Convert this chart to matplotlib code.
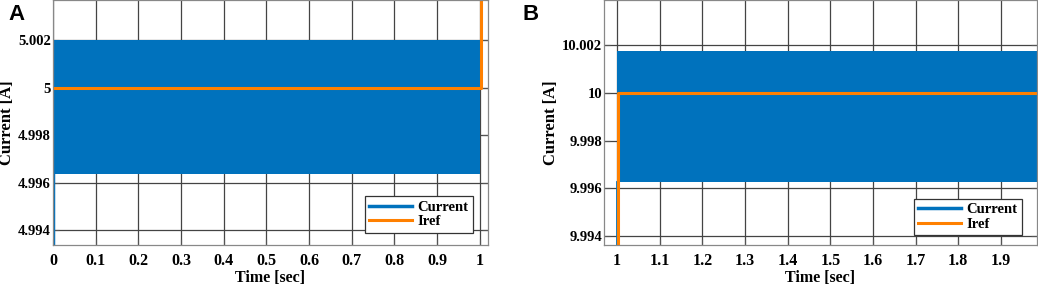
import matplotlib.pyplot as plt
import numpy as np

# panel A data (0 - 1 s, Iref = 5 A)
t_band_a = [0.0, 1.0]
band_hi_a = [5.0020, 5.0020]
band_lo_a = [4.99635, 4.99635]
t_start_a = [0.0, 0.0]
i_start_a = [4.990, 4.99635]
t_ref_a = [0.0, 1.002, 1.002]
i_ref_a = [5.0, 5.0, 10.0]

# panel B data (1 - 2 s, Iref = 10 A)
t_band_b = [1.0, 2.0]
band_hi_b = [10.00175, 10.00175]
band_lo_b = [9.99625, 9.99625]
t_start_b = [1.0, 1.0]
i_start_b = [9.990, 9.99625]
t_ref_b = [1.0015, 1.0015, 2.0]
i_ref_b = [5.0, 10.0, 10.0]

xticks_a = np.round(np.arange(0, 1.01, 0.1), 1)
xlabels_a = ['0'] + ['%.1f' % v for v in xticks_a[1:-1]] + ['1']
yticks_a = [4.994, 4.996, 4.998, 5.0, 5.002]
ylabels_a = ['4.994', '4.996', '4.998', '5', '5.002']

xticks_b = np.round(np.arange(1.0, 1.91, 0.1), 1)
xlabels_b = ['1'] + ['%.1f' % v for v in xticks_b[1:]]
yticks_b = [9.994, 9.996, 9.998, 10.0, 10.002]
ylabels_b = ['9.994', '9.996', '9.998', '10', '10.002']

blue = '#0072BD'
orange = '#FF8000'
serif = 'Liberation Serif'

fig = plt.figure(figsize=(10.38, 2.86), dpi=100)
axA = fig.add_axes([0.0511, 0.1434, 0.4190, 0.8566])
axB = fig.add_axes([0.5819, 0.1434, 0.4171, 0.8566])


def style(ax, xticks, xlabels, yticks, ylabels, xlim, ylim):
    ax.set_xlim(*xlim)
    ax.set_ylim(*ylim)
    ax.set_xticks(xticks)
    ax.set_xticklabels(xlabels)
    ax.set_yticks(yticks)
    ax.set_yticklabels(ylabels)
    ax.set_axisbelow(True)
    ax.grid(True, color='#444444', linewidth=0.9)
    ax.tick_params(direction='in', length=4, color='#555555', top=False, right=True)
    ax.tick_params(axis='x', labelsize=11.5, pad=6)
    ax.tick_params(axis='y', labelsize=10.5, pad=1.5)
    for lab in ax.get_xticklabels() + ax.get_yticklabels():
        lab.set_family(serif)
        lab.set_fontweight('bold')
    for sp in ax.spines.values():
        sp.set_color('#888888')
        sp.set_linewidth(0.9)
    ax.set_xlabel('Time [sec]', family=serif, fontweight='bold', fontsize=11.5, labelpad=0.5)
    ax.set_ylabel('Current [A]', family=serif, fontweight='bold', fontsize=12, labelpad=2)


# A
axA.fill_between(t_band_a, band_lo_a, band_hi_a, color=blue, linewidth=0, zorder=2.1)
axA.plot(t_start_a, i_start_a, color=blue, lw=2.5, zorder=2.2)
axA.plot([], [], color=blue, lw=2.5, label='Current')
axA.plot(t_ref_a, i_ref_a, color=orange, lw=2.2, label='Iref', zorder=2.5)
style(axA, xticks_a, xlabels_a, yticks_a, ylabels_a, (0, 1.019), (4.99337, 5.0037))

# B
axB.fill_between(t_band_b, band_lo_b, band_hi_b, color=blue, linewidth=0, zorder=2.1)
axB.plot(t_start_b, i_start_b, color=blue, lw=2, zorder=2.2)
axB.plot([], [], color=blue, lw=2.5, label='Current')
axB.plot(t_ref_b, i_ref_b, color=orange, lw=2.2, label='Iref', zorder=2.5)
style(axB, xticks_b, xlabels_b, yticks_b, ylabels_b, (0.969, 1.9846), (9.99362, 10.0039))

for ax, loc in ((axA, (0.9655, 0.05)), (axB, (0.965, 0.04))):
    leg = ax.legend(loc='lower right', bbox_to_anchor=loc, borderaxespad=0, fancybox=False,
                    framealpha=1, edgecolor='#333333', borderpad=0.3, handlelength=2.9,
                    handletextpad=0.4, labelspacing=0.1,
                    prop={'family': serif, 'weight': 'bold', 'size': 10.5})
    leg.get_frame().set_linewidth(0.9)
    leg.set_zorder(5)

fig.text(0.0077, 0.985, 'A', family='Liberation Sans', fontweight='bold', fontsize=16,
         va='top', ha='left')
fig.text(0.5035, 0.985, 'B', family='Liberation Sans', fontweight='bold', fontsize=16,
         va='top', ha='left')

fig.savefig('out.png', dpi=100)
